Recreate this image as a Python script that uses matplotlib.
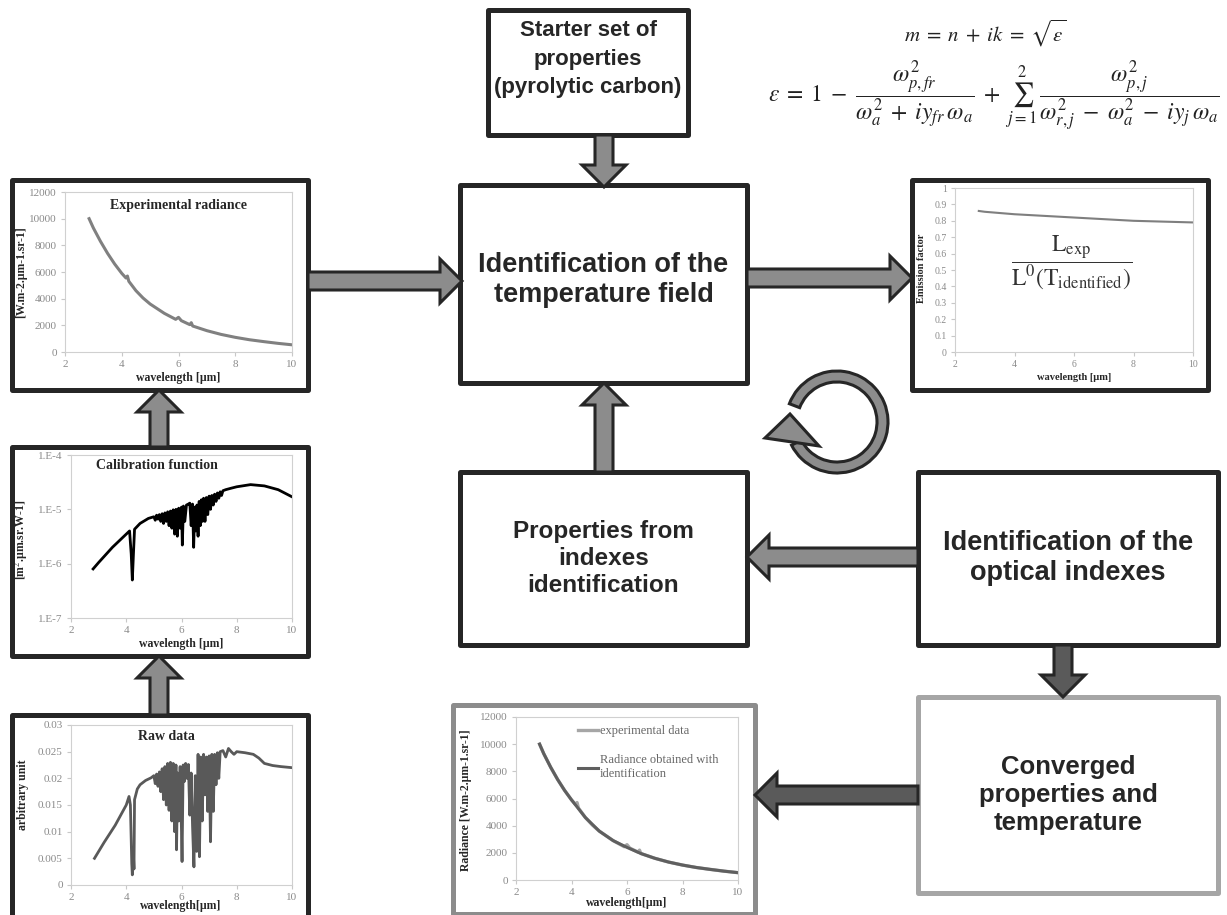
import numpy as np
import matplotlib
matplotlib.use("Agg")
import matplotlib.pyplot as plt
from matplotlib.patches import Rectangle, Polygon, Wedge

plt.rcParams['font.family'] = ['Liberation Serif', 'DejaVu Serif']
plt.rcParams['mathtext.fontset'] = 'stix'

# --- data ---
wl_rad = [2.85, 3.0, 3.25, 3.5, 3.75, 4.0, 4.15, 4.2, 4.25, 4.5, 4.75, 5.0, 5.5,
          5.9, 6.0, 6.1, 6.4, 6.45, 6.5, 7.0, 7.5, 8.0, 8.5, 9.0, 9.5, 10.0]
rad_exp = [10000, 9300, 8300, 7400, 6600, 5900, 5550, 5700, 5300, 4600, 4050, 3600, 2900,
           2450, 2600, 2350, 2050, 2200, 1950, 1600, 1320, 1100, 920, 780, 650, 540]

wl_fit = [2.85, 3.0, 3.25, 3.5, 3.75, 4.0, 4.5, 5.0, 5.5, 6.0, 6.5, 7.0, 7.5, 8.0, 8.5, 9.0, 9.5, 10.0]
rad_fit = [10000, 9300, 8300, 7400, 6600, 5900, 4600, 3600, 2900, 2400, 1950, 1600, 1320, 1100,
           920, 780, 650, 540]

wl_cal = [2.8, 3.0, 3.5, 4.0, 4.12, 4.18, 4.22, 4.26, 4.3, 4.5,
          4.8, 5.0, 5.05, 5.1, 5.15, 5.2, 5.25, 5.3, 5.35, 5.4,
          5.45, 5.5, 5.55, 5.6, 5.65, 5.7, 5.75, 5.8, 5.85, 5.9,
          5.95, 6.0, 6.03, 6.07, 6.12, 6.18, 6.25, 6.3, 6.35, 6.4,
          6.44, 6.48, 6.52, 6.56, 6.6, 6.64, 6.68, 6.72, 6.76, 6.8,
          6.85, 6.9, 6.95, 7.0, 7.05, 7.1, 7.15, 7.2, 7.25, 7.3,
          7.35, 7.4, 7.45, 7.5, 7.6, 7.8, 8.0, 8.5, 9.0, 9.5,
          10.0]
cal = [8e-7, 1.05e-6, 2e-6, 3.5e-6, 4e-6, 1.5e-6, 5e-7, 1.5e-6, 4.3e-6, 5.5e-6,
       6.8e-6, 7.3e-6, 6.3e-6, 7.8e-6, 6.6e-6, 8e-6, 6e-6, 8.3e-6, 5.5e-6, 8.6e-6,
       6e-6, 9e-6, 5e-6, 9.3e-6, 4.5e-6, 9.8e-6, 3.5e-6, 1e-5, 3.2e-6, 1.05e-5,
       4.5e-6, 1.1e-5, 2.2e-6, 1.15e-5, 6e-6, 1.2e-5, 1.25e-5, 1.3e-5, 5e-6, 1.25e-5,
       2e-6, 1.1e-5, 4e-6, 1.2e-5, 3.2e-6, 1.4e-5, 5e-6, 1.5e-5, 6e-6, 1.6e-5,
       6e-6, 1.65e-5, 8e-6, 1.75e-5, 1e-5, 1.8e-5, 1.2e-5, 1.9e-5, 1.4e-5, 2e-5,
       1.6e-5, 2.1e-5, 1.8e-5, 2.2e-5, 2.3e-5, 2.45e-5, 2.6e-5, 2.85e-5, 2.7e-5, 2.3e-5,
       1.7e-5]

wl_raw = [2.85, 3.2, 3.6, 4.0, 4.1, 4.15, 4.2, 4.22, 4.25, 4.28,
          4.3, 4.4, 4.5, 4.7, 4.9, 5.0, 5.05, 5.1, 5.15, 5.2,
          5.25, 5.3, 5.35, 5.4, 5.45, 5.5, 5.55, 5.6, 5.65, 5.7,
          5.75, 5.8, 5.82, 5.86, 5.9, 5.95, 6.0, 6.02, 6.06, 6.1,
          6.15, 6.2, 6.25, 6.3, 6.35, 6.4, 6.45, 6.5, 6.55, 6.6,
          6.65, 6.7, 6.75, 6.8, 6.85, 6.9, 6.95, 7.0, 7.05, 7.1,
          7.15, 7.2, 7.25, 7.3, 7.35, 7.4, 7.5, 7.6, 7.7, 7.8,
          7.9, 8.0, 8.3, 8.6, 8.8, 9.0, 9.3, 9.6, 10.0]
raw = [0.0050, 0.0080, 0.0112, 0.0150, 0.0166, 0.0150, 0.0040, 0.0019, 0.0070, 0.0030,
       0.0160, 0.0180, 0.0188, 0.0196, 0.0201, 0.0205, 0.0190, 0.0208, 0.0185, 0.0212,
       0.0175, 0.0218, 0.0160, 0.0222, 0.0150, 0.0228, 0.0140, 0.0230, 0.0120, 0.0228,
       0.0100, 0.0225, 0.0066, 0.0210, 0.0120, 0.0222, 0.0100, 0.0044, 0.0225, 0.0194,
       0.0228, 0.0200, 0.0226, 0.0131, 0.0210, 0.0110, 0.0034, 0.0205, 0.0063, 0.0245,
       0.0053, 0.0240, 0.0120, 0.0245, 0.0169, 0.0240, 0.0138, 0.0242, 0.0081, 0.0245,
       0.0138, 0.0245, 0.0188, 0.0248, 0.0200, 0.0250, 0.0252, 0.0240, 0.0256, 0.0250,
       0.0245, 0.0250, 0.0248, 0.0245, 0.0238, 0.0228, 0.0224, 0.0222, 0.0220]

wl_em = [2.8, 3.0, 4.0, 5.0, 6.0, 7.0, 8.0, 9.0, 10.0]
em = [0.86, 0.855, 0.84, 0.83, 0.82, 0.81, 0.80, 0.795, 0.79]

cal_ticks = [1e-7, 1e-6, 1e-5, 1e-4]
cal_labels = ['1.E-7', '1.E-6', '1.E-5', '1.E-4']
raw_ticks = [0, 0.005, 0.01, 0.015, 0.02, 0.025, 0.03]
raw_labels = ['0', '0.005', '0.01', '0.015', '0.02', '0.025', '0.03']
em_ticks = [0, 0.1, 0.2, 0.3, 0.4, 0.5, 0.6, 0.7, 0.8, 0.9, 1.0]
em_labels = ['0', '0.1', '0.2', '0.3', '0.4', '0.5', '0.6', '0.7', '0.8', '0.9', '1']

# --- canvas in pixel units ---
W, H = 1227, 915
fig = plt.figure(figsize=(W / 100, H / 100), dpi=100)
ax = fig.add_axes([0, 0, 1, 1])
ax.set_xlim(0, W)
ax.set_ylim(H, 0)
ax.axis('off')

DARK = '#262626'
ARROW = '#8c8c8c'
ARROW_D = '#5a5a5a'
SANS = ['Liberation Sans', 'DejaVu Sans']


def box(x0, y0, x1, y1, ec=DARK, lw=3.6, text=None, size=17.5, ty=None, ls=1.2):
    ax.add_patch(Rectangle((x0, y0), x1 - x0, y1 - y0, fc='white', ec=ec, lw=lw,
                           joinstyle='round', zorder=2))
    if text:
        ax.text((x0 + x1) / 2, ty if ty else (y0 + y1) / 2, text, ha='center', va='center',
                family=SANS, weight='bold', size=size, color=DARK,
                linespacing=ls, zorder=4)


def fat_arrow(x0, y0, x1, y1, shaft=18, head=44, hlen=22, fc=ARROW):
    d = np.array([x1 - x0, y1 - y0], float)
    L = np.hypot(*d)
    u = d / L
    n = np.array([-u[1], u[0]])
    p0 = np.array([x0, y0], float)
    pb = p0 + u * (L - hlen)
    tip = p0 + u * L
    pts = [p0 + n * shaft / 2, pb + n * shaft / 2, pb + n * head / 2, tip,
           pb - n * head / 2, pb - n * shaft / 2, p0 - n * shaft / 2]
    ax.add_patch(Polygon(pts, closed=True, fc=fc, ec=DARK, lw=2.2,
                         joinstyle='miter', zorder=3))


def plabel(x, y, s, rot=0, size=8.5):
    ax.text(x, y, s, rotation=rot, ha='center', va='center', weight='bold',
            size=size, color=DARK, zorder=5)


# boxes
box(488, 10, 688, 135, text='Starter set of\nproperties\n(pyrolytic carbon)', size=16, ty=59, ls=1.5)
box(460, 185, 747, 383, text='Identification of the\ntemperature field', size=19.5, ty=280)
box(460, 472, 747, 645, text='Properties from\nindexes\nidentification', size=17.5)
box(918, 472, 1218, 645, text='Identification of the\noptical indexes', size=19.5)
box(918, 697, 1218, 893, ec='#a6a6a6', text='Converged\nproperties and\ntemperature', size=18.5)
box(12, 180, 308, 390)
box(12, 447, 308, 656)
box(12, 715, 308, 930)
box(912, 180, 1208, 390)
box(453, 705, 755, 914, ec='#8c8c8c')

# arrows
fat_arrow(308, 281, 462, 281)
fat_arrow(604, 135, 604, 187)
fat_arrow(747, 278, 912, 278)
fat_arrow(159, 447, 159, 390)
fat_arrow(159, 715, 159, 656)
fat_arrow(604, 472, 604, 383)
fat_arrow(918, 557, 747, 557)
fat_arrow(1063, 645, 1063, 697, fc=ARROW_D)
fat_arrow(918, 795, 755, 795, fc=ARROW_D)

# loop symbol
ax.add_patch(Wedge((837, 422), 51, -159, 153, width=11, fc=ARROW, ec=DARK, lw=2.2, zorder=3))
ax.add_patch(Polygon([(790, 414), (765, 438), (819, 446)], closed=True, fc=ARROW,
                     ec=DARK, lw=2.2, joinstyle='miter', zorder=3))

# formulas
ax.text(985, 33, r'$m\; =\; n\; +\; ik\; =\; \sqrt{\epsilon}$', ha='center', va='center',
        size=15, color='#222222')
ax.text(768, 97, r'$\epsilon\; =\; 1\; -\; \dfrac{\omega_{p,fr}^2}{\omega_a^2\; +\; iy_{fr}\,\omega_a}'
        r'\; +\; \sum_{j=1}^{2}\,\dfrac{\omega_{p,j}^2}{\omega_{r,j}^2\; -\; \omega_a^2\; -\; iy_j\,\omega_a}$',
        ha='left', va='center', size=17, color='#222222')


def chart(l, t, r, b, size=8):
    a = fig.add_axes([l / W, 1 - b / H, (r - l) / W, (b - t) / H])
    a.set_facecolor('none')
    for s in a.spines.values():
        s.set_color('#d0d0d0')
        s.set_linewidth(0.8)
    a.tick_params(labelsize=size, color='#c8c8c8', labelcolor='#8a8a8a', length=3,
                  width=0.8, pad=3)
    a.set_xlim(2, 10)
    a.set_xticks([2, 4, 6, 8, 10])
    return a


# experimental radiance
a1 = chart(65, 192, 292, 352)
a1.plot(wl_rad, rad_exp, color='#808080', lw=2.2)
a1.set_ylim(0, 12000)
a1.set_yticks(range(0, 12001, 2000))
a1.text(0.5, 0.915, 'Experimental radiance', transform=a1.transAxes, ha='center',
        va='center', weight='bold', size=10, color=DARK)
plabel(21, 272, '[W.m-2.µm-1.sr-1]', rot=90)
plabel(178, 378, 'wavelength [µm]')

# calibration function
a2 = chart(71, 455, 292, 618)
a2.semilogy(wl_cal, cal, color='black', lw=2)
a2.set_ylim(1e-7, 1e-4)
a2.set_yticks(cal_ticks, cal_labels)
a2.yaxis.set_minor_locator(matplotlib.ticker.NullLocator())
a2.text(0.39, 0.935, 'Calibration function', transform=a2.transAxes, ha='center',
        va='center', weight='bold', size=10, color=DARK)
plabel(21, 540, '[m$^2$.µm.sr.W-1]', rot=90)
plabel(181, 644, 'wavelength [µm]')

# raw data
a3 = chart(71, 725, 292, 885)
a3.plot(wl_raw, raw, color='#595959', lw=2)
a3.set_ylim(0, 0.03)
a3.set_yticks(raw_ticks, raw_labels)
a3.text(0.43, 0.93, 'Raw data', transform=a3.transAxes, ha='center',
        va='center', weight='bold', size=10, color=DARK)
plabel(23, 795, 'arbitrary unit', rot=90)
plabel(181, 906, 'wavelength[µm]')

# emission factor
a4 = chart(955, 188, 1193, 352, size=7)
a4.plot(wl_em, em, color='#7f7f7f', lw=1.5)
a4.set_ylim(0, 1)
a4.set_yticks(em_ticks, em_labels)
a4.text(0.49, 0.545, r'$\dfrac{\mathrm{L_{exp}}}{\mathrm{L^0(T_{identified})}}$',
        transform=a4.transAxes, ha='center', va='center', size=17, color='#333333')
plabel(922, 268, 'Emission factor', rot=90, size=7.5)
plabel(1074, 378, 'wavelength [µm]', size=7.5)

# converged radiance
a5 = chart(516, 717, 738, 880)
a5.plot(wl_rad, rad_exp, color='#a6a6a6', lw=2.4, label='experimental data')
a5.plot(wl_fit, rad_fit, color='#5f5f5f', lw=2.2, label='Radiance obtained with\nidentification')
a5.set_ylim(0, 12000)
a5.set_yticks(range(0, 12001, 2000))
a5.legend(loc='upper left', bbox_to_anchor=(0.23, 1.02), frameon=False, fontsize=9,
          handlelength=1.6, handletextpad=0.1, labelcolor='#666666', labelspacing=1.4)
plabel(466, 800, 'Radiance [W.m-2.µm-1.sr-1]', rot=90)
plabel(627, 903, 'wavelength[µm]')

fig.savefig('out.png', dpi=100)
